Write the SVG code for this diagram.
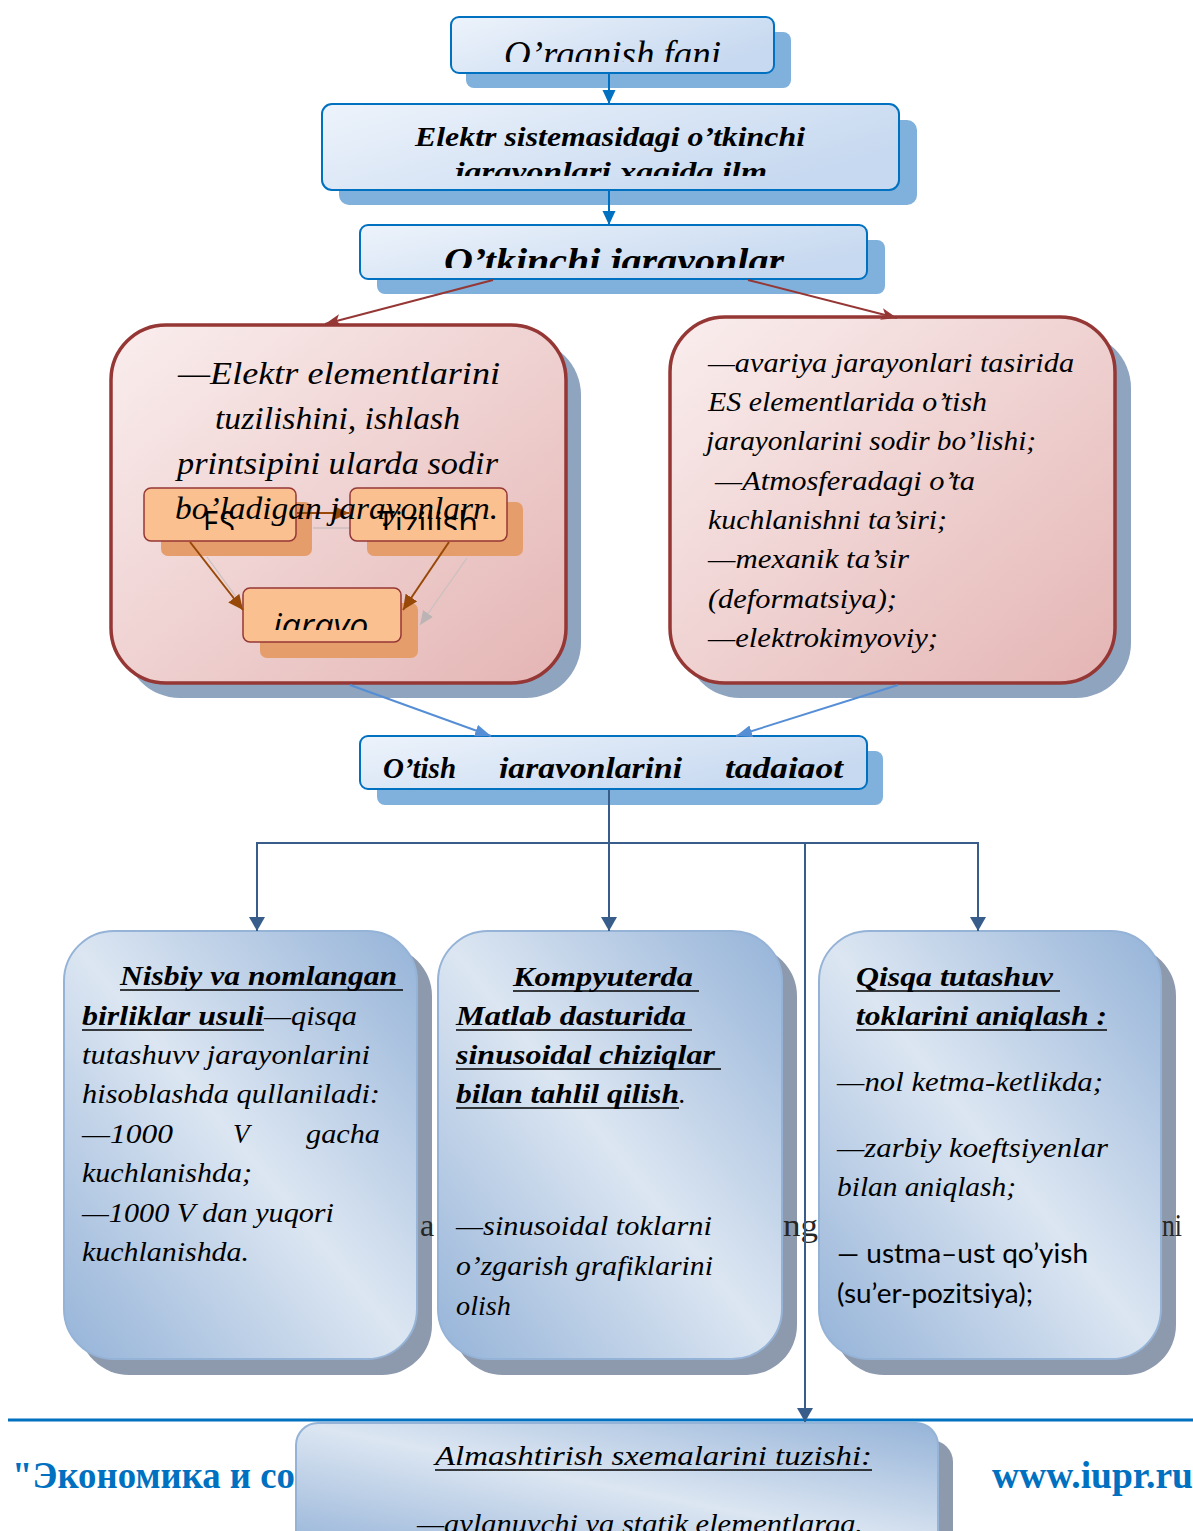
<svg xmlns="http://www.w3.org/2000/svg" width="1193" height="1531" viewBox="0 0 1193 1531">
<style>
.s{font-family:"Liberation Serif","DejaVu Serif",serif;font-style:italic;fill:#000}
.b{font-weight:bold}
.o{font-family:"Open Sans","Liberation Sans",sans-serif;fill:#000}
.ca{font-family:Lato,"Liberation Sans",sans-serif;fill:#000}
.ul{stroke:#000;stroke-width:1.6}
.top{fill:url(#gTop);stroke:#0070c0;stroke-width:2}
.topSh{fill:#7fb1dc}
.red{fill:url(#gRed);stroke:#953735;stroke-width:3.5}
.redSh{fill:#8ea4bf}
.or{fill:#fac090;stroke:#953735;stroke-width:1.5}
.orSh{fill:#e59d6c}
.bl{fill:url(#gBl);stroke:#95b3d7;stroke-width:2}
.blSh{fill:#8d9aae}
.bg{font-family:"Liberation Serif","DejaVu Serif",serif;fill:#262626;font-size:32px}
.ft{font-family:"Liberation Serif","DejaVu Serif",serif;font-weight:bold;fill:#0070c0;font-size:38px}
</style>
<defs>
<linearGradient id="gTop" x1="0" y1="0" x2="1" y2="0.5"><stop offset="0" stop-color="#edf3fb"/><stop offset="1" stop-color="#c7d9f0"/></linearGradient>
<linearGradient id="gRed" x1="0" y1="0" x2="1" y2="1"><stop offset="0" stop-color="#faeeee"/><stop offset="1" stop-color="#e4b5b4"/></linearGradient>
<linearGradient id="gBl" x1="0" y1="1" x2="1" y2="0"><stop offset="0" stop-color="#95b3d8"/><stop offset="0.5" stop-color="#dce6f2"/><stop offset="1" stop-color="#95b3d8"/></linearGradient>
<marker id="mTop" markerUnits="userSpaceOnUse" markerWidth="14" markerHeight="14" refX="14" refY="7" orient="auto"><path d="M0,0.5 L14,7 L0,13.5 z" fill="#0070c0"/></marker>
<marker id="mRed" markerUnits="userSpaceOnUse" markerWidth="16" markerHeight="12" refX="16" refY="6" orient="auto"><path d="M0,0 L16,6 L0,12 L4,6 z" fill="#953735"/></marker>
<marker id="mMid" markerUnits="userSpaceOnUse" markerWidth="16" markerHeight="12" refX="16" refY="6" orient="auto"><path d="M0,0 L16,6 L0,12 z" fill="#558ed5"/></marker>
<marker id="mDk" markerUnits="userSpaceOnUse" markerWidth="14" markerHeight="16" refX="14" refY="8" orient="auto"><path d="M0,0 L14,8 L0,16 z" fill="#385d8a"/></marker>
<marker id="mBr" markerUnits="userSpaceOnUse" markerWidth="15" markerHeight="14" refX="15" refY="7" orient="auto"><path d="M0,0 L15,7 L0,14 z" fill="#984807"/></marker>
<marker id="mGr" markerUnits="userSpaceOnUse" markerWidth="14" markerHeight="12" refX="14" refY="6" orient="auto"><path d="M0,0 L14,6 L0,12 z" fill="#bcb4b4"/></marker>
<clipPath id="c1"><rect x="450" y="17" width="325" height="45"/></clipPath>
<clipPath id="c2"><rect x="322" y="104" width="578" height="72"/></clipPath>
<clipPath id="c3"><rect x="360" y="225" width="508" height="43"/></clipPath>
<clipPath id="c4"><rect x="360" y="736" width="508" height="42"/></clipPath>
<clipPath id="cES"><rect x="144" y="488" width="152" height="42"/></clipPath>
<clipPath id="cTi"><rect x="350" y="488" width="157" height="42"/></clipPath>
<clipPath id="cJa"><rect x="243" y="588" width="127" height="42"/></clipPath>
</defs>
<rect width="1193" height="1531" fill="#fff"/>

<!-- background document fragments -->
<g id="page">
<line x1="8" y1="1420" x2="1193" y2="1420" stroke="#0070c0" stroke-width="3"/>
<text class="ft" x="12" y="1488" textLength="283" lengthAdjust="spacingAndGlyphs">"Экономика и со</text>
<text class="ft" x="992" y="1488" textLength="201" lengthAdjust="spacingAndGlyphs">www.iupr.ru</text>
</g>

<!-- shadows of lower boxes -->
<g id="shadows">
<rect class="blSh" x="79" y="946" width="353" height="429" rx="50"/>
<rect class="blSh" x="453" y="946" width="344" height="429" rx="50"/>
<rect class="blSh" x="834" y="946" width="342" height="429" rx="50"/>
<rect class="blSh" x="311" y="1440" width="642" height="120" rx="22"/>
</g>
<g id="bgtext">
<text class="bg" x="420" y="1236">a</text>
<text class="bg" x="783" y="1236" textLength="35" lengthAdjust="spacingAndGlyphs">ng</text>
<text class="bg" x="1162" y="1236" textLength="20" lengthAdjust="spacingAndGlyphs">ni</text>
</g>

<!-- top boxes -->
<g id="n1">
<rect class="topSh" x="466" y="32" width="325" height="56" rx="8"/>
<rect class="top" x="451" y="17" width="323" height="56" rx="8"/>
<text class="s" clip-path="url(#c1)" x="504" y="67" font-size="38" textLength="217" lengthAdjust="spacingAndGlyphs">O’rganish fani</text>
</g>
<g id="n2">
<rect class="topSh" x="339" y="120" width="578" height="85" rx="10"/>
<rect class="top" x="322" y="104" width="577" height="86" rx="10"/>
<text class="s b" x="415" y="146" font-size="27" textLength="390" lengthAdjust="spacingAndGlyphs">Elektr sistemasidagi o’tkinchi</text>
<text class="s b" clip-path="url(#c2)" x="455" y="181" font-size="27" textLength="312" lengthAdjust="spacingAndGlyphs">jarayonlari  xaqida ilm</text>
</g>
<g id="n3">
<rect class="topSh" x="377" y="240" width="508" height="54" rx="8"/>
<rect class="top" x="360" y="225" width="507" height="54" rx="8"/>
<text class="s b" clip-path="url(#c3)" x="444" y="273" font-size="35" textLength="340" lengthAdjust="spacingAndGlyphs">O’tkinchi jarayonlar</text>
</g>

<!-- left red box with inner diagram -->
<g id="n4">
<rect class="redSh" x="125" y="340" width="456" height="358" rx="55"/>
<rect class="red" x="111" y="325" width="455" height="358" rx="55"/>
<g id="n4-inner">
<rect class="orSh" x="161" y="502" width="151" height="54" rx="7"/>
<rect class="orSh" x="367" y="502" width="156" height="54" rx="7"/>
<rect class="orSh" x="260" y="603" width="158" height="55" rx="7"/>
<line x1="313" y1="528" x2="364" y2="528" stroke="#bcb4b4" stroke-width="1.2" marker-end="url(#mGr)"/>
<line x1="207" y1="557" x2="258" y2="627" stroke="#c8c0c0" stroke-width="1.2" marker-end="url(#mGr)"/>
<line x1="467" y1="558" x2="420" y2="625" stroke="#c8c0c0" stroke-width="1.2" marker-end="url(#mGr)"/>
<rect class="or" x="144" y="488" width="152" height="53" rx="7"/>
<rect class="or" x="350" y="488" width="157" height="53" rx="7"/>
<rect class="or" x="243" y="588" width="158" height="54" rx="7"/>
<line x1="297" y1="513" x2="349" y2="513" stroke="#984807" stroke-width="2" marker-end="url(#mBr)"/>
<line x1="190" y1="542" x2="243" y2="610" stroke="#984807" stroke-width="2" marker-end="url(#mBr)"/>
<line x1="449" y1="542" x2="403" y2="610" stroke="#984807" stroke-width="2" marker-end="url(#mBr)"/>
<text class="o" clip-path="url(#cES)" x="203" y="536" font-size="34" textLength="32" lengthAdjust="spacingAndGlyphs">ES</text>
<text class="o" clip-path="url(#cTi)" x="377" y="536" font-size="34" textLength="101" lengthAdjust="spacingAndGlyphs">Tizilish</text>
<text class="o" clip-path="url(#cJa)" x="273" y="637" font-size="32" font-style="italic" textLength="115" lengthAdjust="spacingAndGlyphs">jarayon</text>
</g>
<g font-size="32">
<text class="s" x="178" y="384" textLength="322" lengthAdjust="spacingAndGlyphs">—Elektr elementlarini</text>
<text class="s" x="215" y="429" textLength="245" lengthAdjust="spacingAndGlyphs">tuzilishini, ishlash</text>
<text class="s" x="177" y="474" textLength="321" lengthAdjust="spacingAndGlyphs">printsipini ularda sodir</text>
<text class="s" x="175" y="519" textLength="323" lengthAdjust="spacingAndGlyphs">bo’ladigan jarayonlarn.</text>
</g>
</g>

<!-- right red box -->
<g id="n5" font-size="27">
<rect class="redSh" x="685" y="333" width="446" height="365" rx="55"/>
<rect class="red" x="670" y="317" width="445" height="366" rx="55"/>
<text class="s" x="708" y="372" textLength="366" lengthAdjust="spacingAndGlyphs">—avariya jarayonlari tasirida</text>
<text class="s" x="708" y="411" textLength="279" lengthAdjust="spacingAndGlyphs">ES elementlarida o’tish</text>
<text class="s" x="706" y="450" textLength="330" lengthAdjust="spacingAndGlyphs">jarayonlarini sodir bo’lishi;</text>
<text class="s" x="715" y="490" textLength="260" lengthAdjust="spacingAndGlyphs">—Atmosferadagi o’ta</text>
<text class="s" x="708" y="529" textLength="239" lengthAdjust="spacingAndGlyphs">kuchlanishni ta’siri;</text>
<text class="s" x="708" y="568" textLength="201" lengthAdjust="spacingAndGlyphs">—mexanik ta’sir</text>
<text class="s" x="708" y="608" textLength="189" lengthAdjust="spacingAndGlyphs">(deformatsiya);</text>
<text class="s" x="708" y="647" textLength="230" lengthAdjust="spacingAndGlyphs">—elektrokimyoviy;</text>
</g>

<!-- O'tish box -->
<g id="n6">
<rect class="topSh" x="377" y="751" width="506" height="54" rx="8"/>
<rect class="top" x="360" y="736" width="507" height="53" rx="8"/>
<g clip-path="url(#c4)" font-size="29">
<text class="s b" x="383" y="778" textLength="73" lengthAdjust="spacingAndGlyphs">O’tish</text>
<text class="s b" x="499" y="778" textLength="183" lengthAdjust="spacingAndGlyphs">jarayonlarini</text>
<text class="s b" x="725" y="778" textLength="118" lengthAdjust="spacingAndGlyphs">tadqiqot</text>
</g>
</g>

<!-- box A -->
<g id="n7" font-size="27">
<rect class="bl" x="64" y="931" width="353" height="428" rx="50"/>
<text class="s b" x="120" y="985" textLength="277" lengthAdjust="spacingAndGlyphs">Nisbiy va nomlangan</text>
<line class="ul" x1="120" y1="990" x2="403" y2="990"/>
<text class="s b" x="82" y="1025" textLength="182" lengthAdjust="spacingAndGlyphs">birliklar usuli</text>
<line class="ul" x1="82" y1="1030" x2="264" y2="1030"/>
<text class="s" x="264" y="1025" textLength="93" lengthAdjust="spacingAndGlyphs">—qisqa</text>
<text class="s" x="82" y="1064" textLength="288" lengthAdjust="spacingAndGlyphs">tutashuvv jarayonlarini</text>
<text class="s" x="82" y="1103" textLength="298" lengthAdjust="spacingAndGlyphs">hisoblashda  qullaniladi:</text>
<text class="s" x="82" y="1143" textLength="91" lengthAdjust="spacingAndGlyphs">—1000</text>
<text class="s" x="233" y="1143">V</text>
<text class="s" x="306" y="1143" textLength="74" lengthAdjust="spacingAndGlyphs">gacha</text>
<text class="s" x="82" y="1182" textLength="170" lengthAdjust="spacingAndGlyphs">kuchlanishda;</text>
<text class="s" x="82" y="1222" textLength="252" lengthAdjust="spacingAndGlyphs">—1000 V dan yuqori</text>
<text class="s" x="82" y="1261" textLength="167" lengthAdjust="spacingAndGlyphs">kuchlanishda.</text>
</g>

<!-- box B -->
<g id="n8" font-size="27">
<rect class="bl" x="438" y="931" width="344" height="428" rx="50"/>
<text class="s b" x="513" y="986" textLength="180" lengthAdjust="spacingAndGlyphs">Kompyuterda</text>
<line class="ul" x1="513" y1="991" x2="699" y2="991"/>
<text class="s b" x="456" y="1025" textLength="230" lengthAdjust="spacingAndGlyphs">Matlab dasturida</text>
<line class="ul" x1="456" y1="1030" x2="692" y2="1030"/>
<text class="s b" x="456" y="1064" textLength="259" lengthAdjust="spacingAndGlyphs">sinusoidal chiziqlar</text>
<line class="ul" x1="456" y1="1069" x2="721" y2="1069"/>
<text class="s b" x="456" y="1103" textLength="223" lengthAdjust="spacingAndGlyphs">bilan tahlil qilish</text>
<line class="ul" x1="456" y1="1108" x2="679" y2="1108"/>
<text class="s" x="679" y="1103">.</text>
<text class="s" x="456" y="1235" textLength="256" lengthAdjust="spacingAndGlyphs">—sinusoidal toklarni</text>
<text class="s" x="456" y="1275" textLength="257" lengthAdjust="spacingAndGlyphs">o’zgarish grafiklarini</text>
<text class="s" x="456" y="1315" textLength="55" lengthAdjust="spacingAndGlyphs">olish</text>
</g>

<!-- box C -->
<g id="n9" font-size="27">
<rect class="bl" x="819" y="931" width="342" height="428" rx="50"/>
<text class="s b" x="856" y="986" textLength="197" lengthAdjust="spacingAndGlyphs">Qisqa tutashuv</text>
<line class="ul" x1="856" y1="991" x2="1060" y2="991"/>
<text class="s b" x="856" y="1025" textLength="251" lengthAdjust="spacingAndGlyphs">toklarini aniqlash :</text>
<line class="ul" x1="856" y1="1030" x2="1107" y2="1030"/>
<text class="s" x="837" y="1091" textLength="266" lengthAdjust="spacingAndGlyphs">—nol ketma-ketlikda;</text>
<text class="s" x="837" y="1157" textLength="271" lengthAdjust="spacingAndGlyphs">—zarbiy koeftsiyenlar</text>
<text class="s" x="837" y="1196" textLength="179" lengthAdjust="spacingAndGlyphs">bilan aniqlash;</text>
<text class="ca" x="837" y="1263" font-size="26" textLength="251" lengthAdjust="spacingAndGlyphs">— ustma–ust qo’yish</text>
<text class="ca" x="837" y="1303" font-size="26" textLength="196" lengthAdjust="spacingAndGlyphs">(su’er-pozitsiya);</text>
</g>

<!-- box D -->
<g id="n10" font-size="28">
<rect class="bl" x="296" y="1423" width="642" height="130" rx="22"/>
<text class="s" x="435" y="1465" textLength="437" lengthAdjust="spacingAndGlyphs">Almashtirish sxemalarini tuzishi:</text>
<line class="ul" x1="435" y1="1470" x2="872" y2="1470"/>
<text class="s" x="417" y="1533" textLength="446" lengthAdjust="spacingAndGlyphs">—aylanuvchi va statik elementlarga.</text>
</g>

<!-- connectors (drawn on top of shadows) -->
<g id="connectors" fill="none">
<line x1="609" y1="74" x2="609" y2="104" stroke="#0070c0" stroke-width="2" marker-end="url(#mTop)"/>
<line x1="609" y1="191" x2="609" y2="225" stroke="#0070c0" stroke-width="2" marker-end="url(#mTop)"/>
<line x1="493" y1="280" x2="325" y2="324" stroke="#953735" stroke-width="2" marker-end="url(#mRed)"/>
<line x1="748" y1="280" x2="897" y2="318" stroke="#953735" stroke-width="2" marker-end="url(#mRed)"/>
<line x1="350" y1="685" x2="491" y2="736" stroke="#558ed5" stroke-width="2" marker-end="url(#mMid)"/>
<line x1="898" y1="685" x2="736" y2="736" stroke="#558ed5" stroke-width="2" marker-end="url(#mMid)"/>
<line x1="609" y1="790" x2="609" y2="931" stroke="#385d8a" stroke-width="2" marker-end="url(#mDk)"/>
<polyline points="257,931 257,843 978,843 978,931" stroke="#385d8a" stroke-width="2" marker-end="url(#mDk)"/>
<line x1="257" y1="860" x2="257" y2="931" stroke="#385d8a" stroke-width="2" marker-end="url(#mDk)"/>
<line x1="805" y1="843" x2="805" y2="1422" stroke="#385d8a" stroke-width="2" marker-end="url(#mDk)"/>
</g>
</svg>
